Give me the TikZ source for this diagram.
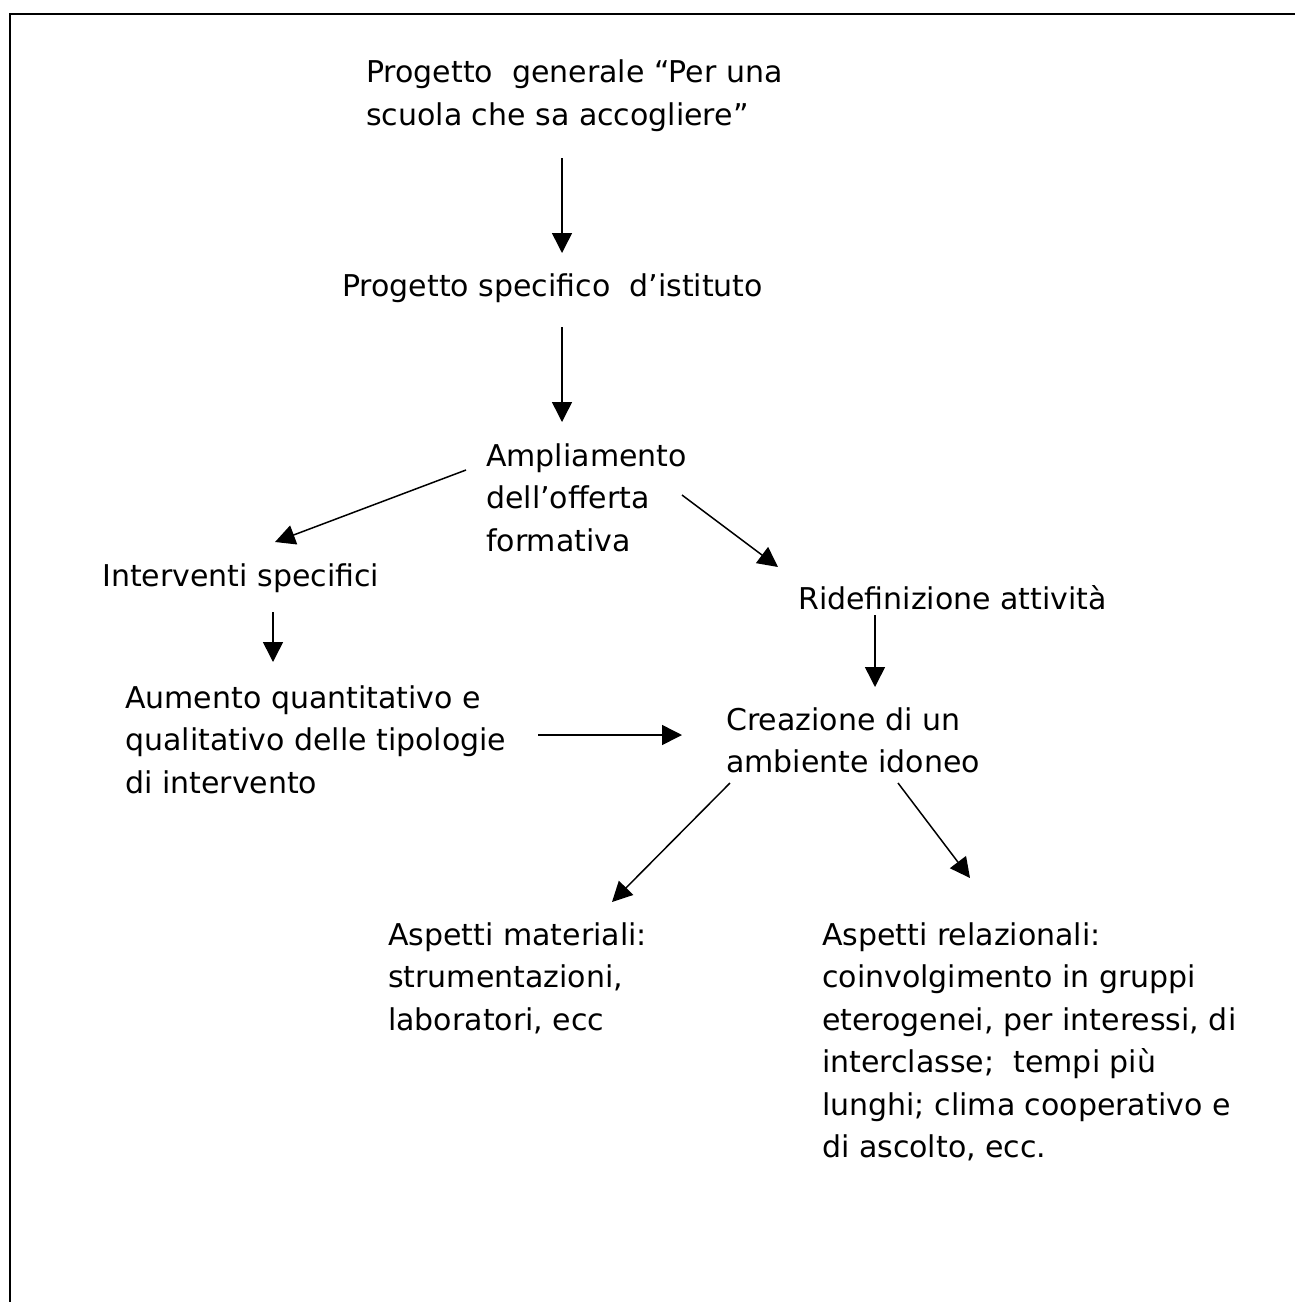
\documentclass[tikz,border=0pt]{standalone}
\usepackage{fontspec}
\setmainfont{DejaVu Sans}
\usetikzlibrary{arrows.meta,calc}
\tikzset{
        box/.style={anchor=north west,inner sep=0pt,align=left,font=\fontsize{30}{42.5}\selectfont},
        arr/.style={line width=1.5pt,-{Triangle[length=20pt,width=20pt]}}
}
\begin{document}
\begin{tikzpicture}[x=1pt,y=-1pt]
        \useasboundingbox (0,0) rectangle (1295,1302);
        \draw[line width=2pt] (10,1302) -- (10,14) -- (1295,14);

        \node[box] (gen) at (366,60) {Progetto\ \ generale “Per una\\scuola che sa accogliere”};
        \node[box] (spec) at (342,274) {Progetto specifico\ \ d’istituto};
        \node[box] (ampl) at (486,443) {Ampliamento\\dell’offerta\\formativa};
        \node[box] (interv) at (102,563) {Interventi specifici};
        \node[box] (ridef) at (798,585) {Ridefinizione attività};
        \node[box] (aum) at (125,685) {Aumento quantitativo e\\qualitativo delle tipologie\\di intervento};
        \node[box] (crea) at (726,707) {Creazione di un\\ambiente idoneo};
        \node[box] (mat) at (388,922) {Aspetti materiali:\\strumentazioni,\\laboratori, ecc};
        \node[box] (rel) at (822,922) {Aspetti relazionali:\\coinvolgimento in gruppi\\eterogenei, per interessi, di\\interclasse;\ \ tempi più\\lunghi; clima cooperativo e\\di ascolto, ecc.};

        \draw[arr] ($(gen.north west)+(196,98)$) -- ($(spec.north west)+(220,-21)$);
        \draw[arr] ($(spec.north west)+(220,53)$) -- ($(ampl.north west)+(76,-21)$);
        \draw[arr] ($(ampl.north west)+(-20,27)$) -- ($(interv.north west)+(173,-21)$);
        \draw[arr] ($(ampl.north west)+(196,52)$) -- ($(ridef.north west)+(-20,-18)$);
        \draw[arr] ($(interv.north west)+(171,49)$) -- ($(aum.north west)+(148,-23)$);
        \draw[arr] ($(ridef.north west)+(77,30)$) -- ($(crea.north west)+(149,-20)$);
        \draw[arr] ($(aum.north west)+(413,50)$) -- ($(crea.north west)+(-44,28)$);
        \draw[arr] ($(crea.north west)+(4,76)$) -- ($(mat.north west)+(224,-20)$);
        \draw[arr] ($(crea.north west)+(172,76)$) -- ($(rel.north west)+(148,-44)$);
\end{tikzpicture}
\end{document}
